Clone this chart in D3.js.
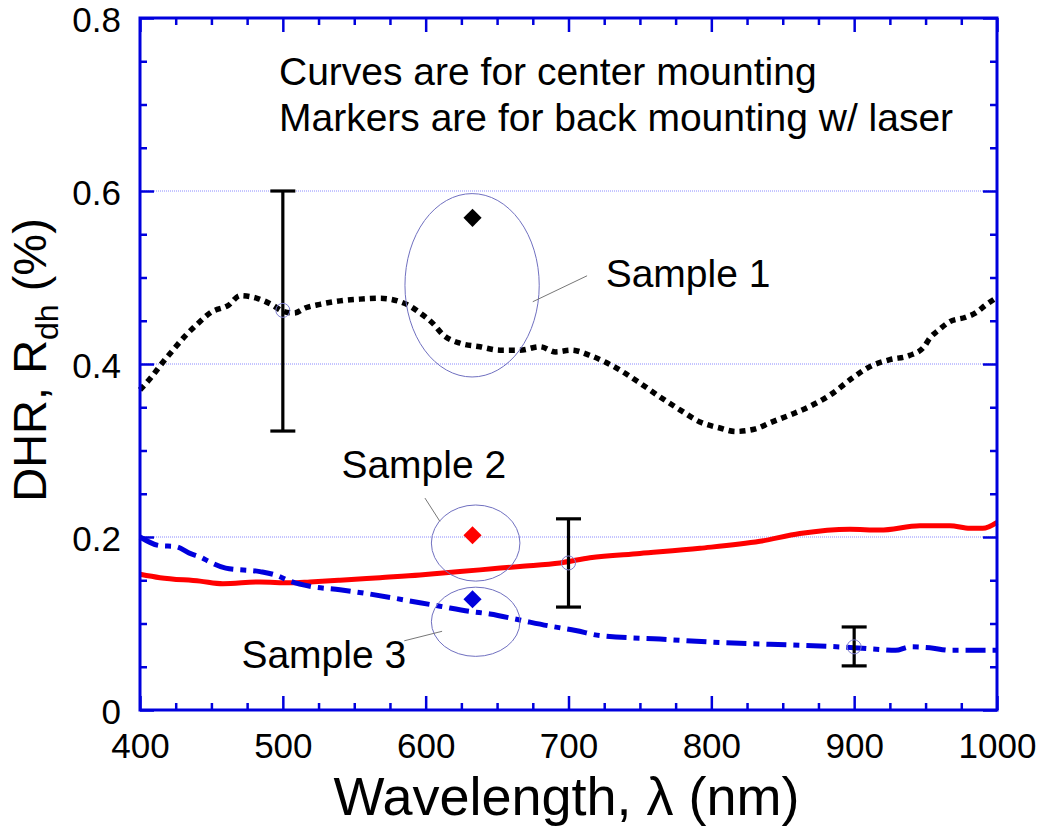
<!DOCTYPE html>
<html>
<head>
<meta charset="utf-8">
<script src="https://cdn.jsdelivr.net/npm/d3@7"></script>
<style>
  body { margin: 0; background: #fff; }
  text { font-family: "Liberation Sans", Arial, sans-serif; fill: #000; }
</style>
</head>
<body>
<div id="chart"></div>
<script>
// Sample 1 (black dotted), center mounting
var wl1 = [400,408,416,422,432,440,450,462,470,482,493,500,508,516,526,540,554,568,582,589,596,605,612,624,638,652,666,680,691,702,715,726,736,750,764,778,792,806,817,831,841,855,869,883,899,911,925,939,949,953,959,967,978,985,992,1000];
var dhr1 = [0.370,0.385,0.402,0.414,0.433,0.446,0.460,0.468,0.479,0.476,0.468,0.461,0.459,0.465,0.469,0.473,0.475,0.476,0.472,0.467,0.459,0.447,0.434,0.424,0.420,0.416,0.416,0.420,0.414,0.416,0.410,0.402,0.393,0.378,0.362,0.347,0.333,0.326,0.322,0.325,0.332,0.341,0.351,0.364,0.384,0.397,0.405,0.410,0.420,0.430,0.439,0.449,0.454,0.459,0.468,0.477];

// Sample 2 (red solid)
var wl2 = [400,414,442,458,484,505,519,540,568,596,610,638,666,694,715,750,792,834,862,897,918,946,967,981,990,1000];
var dhr2 = [0.157,0.153,0.149,0.146,0.148,0.147,0.148,0.150,0.153,0.156,0.158,0.162,0.166,0.170,0.176,0.181,0.187,0.195,0.204,0.209,0.208,0.213,0.213,0.210,0.210,0.217];

// Sample 3 (blue dash-dot)
var wl3 = [400,414,425,435,442,449,460,484,495,505,519,540,561,579,596,610,631,645,666,687,705,722,764,806,841,876,900,918,929,939,953,967,988,1000];
var dhr3 = [0.200,0.190,0.189,0.181,0.177,0.171,0.164,0.160,0.156,0.149,0.143,0.139,0.134,0.129,0.124,0.120,0.114,0.111,0.104,0.097,0.092,0.086,0.082,0.078,0.076,0.074,0.072,0.070,0.069,0.073,0.072,0.069,0.069,0.069];

// back mounting w/ laser (632.8 nm)
var laserWl = 632.8;
var laserVals = [0.569, 0.202, 0.128];
var laserColors = ["#000000", "#ff0000", "#0000dd"];

// error bars on the curves
var errWl = [500, 700, 900];
var errMid = [0.462, 0.170, 0.073];
var errLo = [0.3225, 0.119, 0.051];
var errHi = [0.600, 0.221, 0.096];

var xTicks = [400, 500, 600, 700, 800, 900, 1000];
var yTicks = [0, 0.2, 0.4, 0.6, 0.8];
var gridVals = [0.2, 0.4, 0.6];

// sample labels, ellipses (data units)
var sampleNames = ["Sample 1", "Sample 2", "Sample 3"];
var labelWl = [726, 541, 471];
var labelVal = [0.489, 0.268, 0.049];
var ellWl = [632.5, 635, 635];
var ellVal = [0.491, 0.193, 0.102];
var ellRWl = [47, 31, 31];
var ellRVal = [0.106, 0.044, 0.040];
var leadFrom = [[675, 0.472], [610, 0.218], [611.5, 0.091]];
var leadTo = [[713, 0.502], [599.5, 0.245], [585, 0.080]];

var notes = ["Curves are for center mounting", "Markers are for back mounting w/ laser"];

var W = 1044, H = 828;
var margin = { top: 18, right: 47, bottom: 118, left: 140 };
var iw = W - margin.left - margin.right;
var ih = H - margin.top - margin.bottom;

var axisBlue = "#0000dd";

var svg = d3.select("#chart").append("svg")
  .attr("width", W)
  .attr("height", H);

var g = svg.append("g")
  .attr("transform", "translate(" + margin.left + "," + margin.top + ")");

var x = d3.scaleLinear().domain([400, 1000]).range([0, iw]);
var y = d3.scaleLinear().domain([0, 0.8]).range([ih, 0]);

// grid lines
g.selectAll(".grid")
  .data(gridVals)
  .enter().append("line")
  .attr("x1", 0).attr("x2", iw)
  .attr("y1", function (d) { return y(d); })
  .attr("y2", function (d) { return y(d); })
  .attr("stroke", "#8a8aff")
  .attr("stroke-width", 1)
  .attr("stroke-dasharray", "1,1");

// curves
var line = d3.line()
  .x(function (d) { return x(d[0]); })
  .y(function (d) { return y(d[1]); })
  .curve(d3.curveMonotoneX);

g.append("path")
  .datum(d3.zip(wl2, dhr2))
  .attr("d", line)
  .attr("fill", "none")
  .attr("stroke", "#ff0000")
  .attr("stroke-width", 5);

g.append("path")
  .datum(d3.zip(wl3, dhr3))
  .attr("d", line)
  .attr("fill", "none")
  .attr("stroke", "#0000dd")
  .attr("stroke-width", 5)
  .attr("stroke-dasharray", "20,7,6,7");

g.append("path")
  .datum(d3.zip(wl1, dhr1))
  .attr("d", line)
  .attr("fill", "none")
  .attr("stroke", "#000")
  .attr("stroke-width", 5.5)
  .attr("stroke-dasharray", "6,5");

// ellipses + leader lines
g.selectAll(".ell")
  .data(d3.range(3))
  .enter().append("ellipse")
  .attr("cx", function (i) { return x(ellWl[i]); })
  .attr("cy", function (i) { return y(ellVal[i]); })
  .attr("rx", function (i) { return x(400 + ellRWl[i]) - x(400); })
  .attr("ry", function (i) { return y(0) - y(ellRVal[i]); })
  .attr("fill", "none")
  .attr("stroke", "#7070c0")
  .attr("stroke-width", 1);

g.selectAll(".lead")
  .data(d3.range(3))
  .enter().append("line")
  .attr("x1", function (i) { return x(leadFrom[i][0]); })
  .attr("y1", function (i) { return y(leadFrom[i][1]); })
  .attr("x2", function (i) { return x(leadTo[i][0]); })
  .attr("y2", function (i) { return y(leadTo[i][1]); })
  .attr("stroke", "#777")
  .attr("stroke-width", 1);

// error bars
var cap = 12.5;
var eb = g.selectAll(".eb")
  .data(d3.range(errWl.length))
  .enter().append("g");

eb.append("line")
  .attr("x1", function (i) { return x(errWl[i]); })
  .attr("x2", function (i) { return x(errWl[i]); })
  .attr("y1", function (i) { return y(errLo[i]); })
  .attr("y2", function (i) { return y(errHi[i]); })
  .attr("stroke", "#000").attr("stroke-width", 3.2);

eb.append("line")
  .attr("x1", function (i) { return x(errWl[i]) - cap; })
  .attr("x2", function (i) { return x(errWl[i]) + cap; })
  .attr("y1", function (i) { return y(errLo[i]); })
  .attr("y2", function (i) { return y(errLo[i]); })
  .attr("stroke", "#000").attr("stroke-width", 3.2);

eb.append("line")
  .attr("x1", function (i) { return x(errWl[i]) - cap; })
  .attr("x2", function (i) { return x(errWl[i]) + cap; })
  .attr("y1", function (i) { return y(errHi[i]); })
  .attr("y2", function (i) { return y(errHi[i]); })
  .attr("stroke", "#000").attr("stroke-width", 3.2);

eb.append("circle")
  .attr("cx", function (i) { return x(errWl[i]); })
  .attr("cy", function (i) { return y(errMid[i]); })
  .attr("r", 7)
  .attr("fill", "none")
  .attr("stroke", "#8080d0")
  .attr("stroke-width", 1);

// laser markers (diamonds)
var diamond = d3.symbol().type(d3.symbolSquare).size(165);
g.selectAll(".mk")
  .data(laserVals)
  .enter().append("path")
  .attr("d", diamond)
  .attr("transform", function (d) {
    return "translate(" + x(laserWl) + "," + y(d) + ") rotate(45)";
  })
  .attr("fill", function (d, i) { return laserColors[i]; });

// axes: ticks inside on all four sides
function drawAxis(axisFn, scale, major, minor, transform, showLabels) {
  var minorTicks = d3.range(minor[0], minor[1] + minor[2] / 2, minor[2])
    .filter(function (v) {
      return !major.some(function (m) { return Math.abs(m - v) < 1e-9; });
    });
  var a1 = g.append("g").attr("transform", transform)
    .call(axisFn(scale).tickValues(minorTicks).tickSize(-7).tickFormat(""));
  var a2 = g.append("g").attr("transform", transform)
    .call(axisFn(scale).tickValues(major).tickSize(-14).tickPadding(showLabels ? 18 : 0)
      .tickFormat(showLabels ? d3.format("") : ""));
  [a1, a2].forEach(function (a) {
    a.select(".domain").remove();
    a.selectAll(".tick line").attr("stroke", axisBlue).attr("stroke-width", 2.5);
  });
  return a2;
}

var fmtY = function (d) { return d === 0 ? "0" : d3.format(".1f")(d); };

var ax = drawAxis(d3.axisBottom, x, xTicks, [400, 1000, 25], "translate(0," + ih + ")", true);
ax.selectAll("text").style("font-size", "35px").attr("dy", 0).attr("y", 48);
drawAxis(d3.axisTop, x, xTicks, [400, 1000, 25], "translate(0,0)", false);

var ay = drawAxis(d3.axisLeft, y, yTicks, [0, 0.8, 0.05], "translate(0,0)", true);
ay.selectAll("text").text(fmtY).style("font-size", "35px").attr("x", -19).attr("dy", "0.38em");
drawAxis(d3.axisRight, y, yTicks, [0, 0.8, 0.05], "translate(" + iw + ",0)", false);

g.append("rect")
  .attr("x", 0).attr("y", 0)
  .attr("width", iw).attr("height", ih)
  .attr("fill", "none")
  .attr("stroke", axisBlue)
  .attr("stroke-width", 3);

// axis titles
svg.append("text")
  .attr("x", margin.left + iw / 2 - 2)
  .attr("y", 815)
  .attr("text-anchor", "middle")
  .style("font-size", "54px")
  .text("Wavelength, \u03bb (nm)");

var yt = svg.append("text")
  .attr("transform", "translate(46," + (margin.top + ih / 2 - 4) + ") rotate(-90)")
  .attr("text-anchor", "middle")
  .style("font-size", "47px");
yt.append("tspan").text("DHR, R");
yt.append("tspan").attr("dy", 12).style("font-size", "32px").text("dh");
yt.append("tspan").attr("dy", -12).text(" (%)");

// notes
g.selectAll(".note")
  .data(notes)
  .enter().append("text")
  .attr("x", 279 - margin.left)
  .attr("y", function (d, i) { return 85 - margin.top + i * 46; })
  .style("font-size", "39px")
  .text(function (d) { return d; });

// sample labels
g.selectAll(".lbl")
  .data(sampleNames)
  .enter().append("text")
  .attr("x", function (d, i) { return x(labelWl[i]); })
  .attr("y", function (d, i) { return y(labelVal[i]); })
  .style("font-size", "39px")
  .text(function (d) { return d; });
</script>
</body>
</html>
